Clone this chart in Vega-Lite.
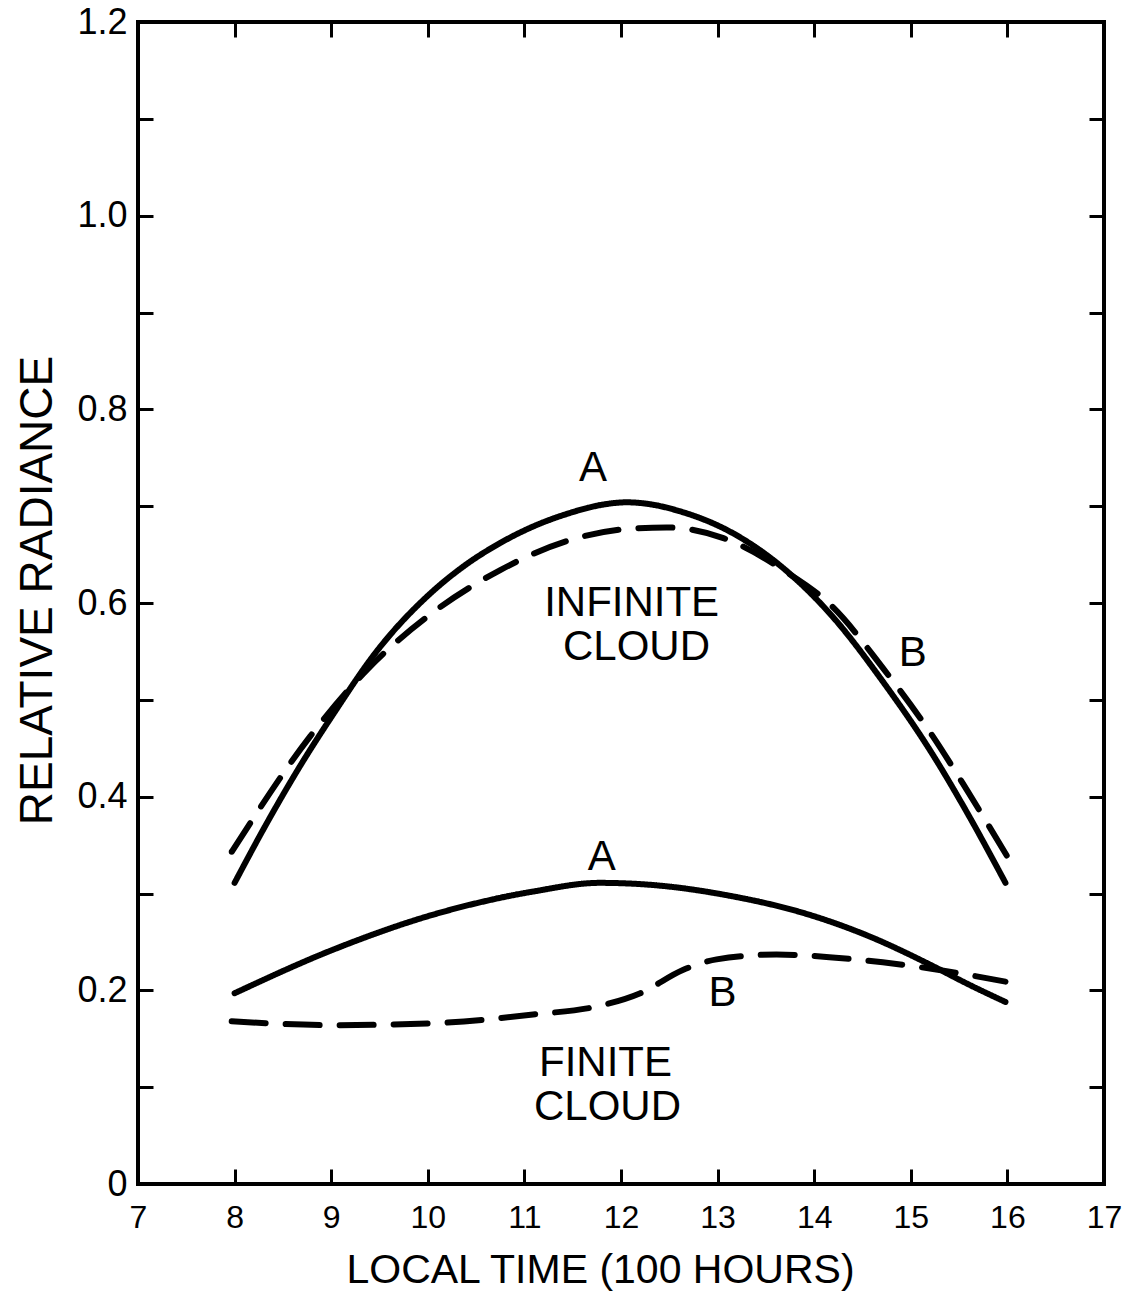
{
  "$schema": "https://vega.github.io/schema/vega-lite/v6.json",
  "width": 966,
  "height": 1162,
  "autosize": {"type": "none"},
  "padding": {"left": 138, "top": 22, "right": 18, "bottom": 108},
  "background": "white",
  "config": {
    "view": {"stroke": "black", "strokeWidth": 4},
    "font": "Liberation Sans",
    "axis": {
      "domain": false,
      "grid": false,
      "tickColor": "black",
      "tickWidth": 3,
      "labelColor": "black",
      "titleColor": "black",
      "titleFontWeight": "normal",
      "labelFont": "Liberation Sans",
      "titleFont": "Liberation Sans"
    }
  },
  "datasets": {
    "curves": [
      {"series": "infinite A", "curve": "A", "time": 8.0, "radiance": 0.311},
      {"series": "infinite A", "curve": "A", "time": 8.33, "radiance": 0.372},
      {"series": "infinite A", "curve": "A", "time": 8.68, "radiance": 0.432},
      {"series": "infinite A", "curve": "A", "time": 9.02, "radiance": 0.485},
      {"series": "infinite A", "curve": "A", "time": 9.47, "radiance": 0.55},
      {"series": "infinite A", "curve": "A", "time": 10.05, "radiance": 0.612},
      {"series": "infinite A", "curve": "A", "time": 10.4, "radiance": 0.640},
      {"series": "infinite A", "curve": "A", "time": 10.75, "radiance": 0.662},
      {"series": "infinite A", "curve": "A", "time": 11.09, "radiance": 0.679},
      {"series": "infinite A", "curve": "A", "time": 11.44, "radiance": 0.692},
      {"series": "infinite A", "curve": "A", "time": 11.78, "radiance": 0.701},
      {"series": "infinite A", "curve": "A", "time": 12.06, "radiance": 0.704},
      {"series": "infinite A", "curve": "A", "time": 12.3, "radiance": 0.702},
      {"series": "infinite A", "curve": "A", "time": 12.6, "radiance": 0.695},
      {"series": "infinite A", "curve": "A", "time": 13.16, "radiance": 0.672},
      {"series": "infinite A", "curve": "A", "time": 13.68, "radiance": 0.636},
      {"series": "infinite A", "curve": "A", "time": 14.19, "radiance": 0.586},
      {"series": "infinite A", "curve": "A", "time": 14.71, "radiance": 0.519},
      {"series": "infinite A", "curve": "A", "time": 15.23, "radiance": 0.443},
      {"series": "infinite A", "curve": "A", "time": 15.58, "radiance": 0.384},
      {"series": "infinite A", "curve": "A", "time": 15.98, "radiance": 0.311},
      {"series": "infinite B", "curve": "B", "time": 7.97, "radiance": 0.343},
      {"series": "infinite B", "curve": "B", "time": 8.78, "radiance": 0.462},
      {"series": "infinite B", "curve": "B", "time": 9.37, "radiance": 0.531},
      {"series": "infinite B", "curve": "B", "time": 10.05, "radiance": 0.59},
      {"series": "infinite B", "curve": "B", "time": 10.75, "radiance": 0.634},
      {"series": "infinite B", "curve": "B", "time": 11.44, "radiance": 0.664},
      {"series": "infinite B", "curve": "B", "time": 12.13, "radiance": 0.677},
      {"series": "infinite B", "curve": "B", "time": 12.47, "radiance": 0.678},
      {"series": "infinite B", "curve": "B", "time": 13.06, "radiance": 0.667},
      {"series": "infinite B", "curve": "B", "time": 13.68, "radiance": 0.634},
      {"series": "infinite B", "curve": "B", "time": 14.19, "radiance": 0.596},
      {"series": "infinite B", "curve": "B", "time": 14.71, "radiance": 0.533},
      {"series": "infinite B", "curve": "B", "time": 15.23, "radiance": 0.462},
      {"series": "infinite B", "curve": "B", "time": 15.58, "radiance": 0.407},
      {"series": "infinite B", "curve": "B", "time": 16.0, "radiance": 0.338},
      {"series": "finite A", "curve": "A", "time": 8.0, "radiance": 0.197},
      {"series": "finite A", "curve": "A", "time": 9.02, "radiance": 0.242},
      {"series": "finite A", "curve": "A", "time": 10.05, "radiance": 0.278},
      {"series": "finite A", "curve": "A", "time": 11.09, "radiance": 0.302},
      {"series": "finite A", "curve": "A", "time": 11.78, "radiance": 0.311},
      {"series": "finite A", "curve": "A", "time": 12.3, "radiance": 0.309},
      {"series": "finite A", "curve": "A", "time": 13.16, "radiance": 0.297},
      {"series": "finite A", "curve": "A", "time": 13.85, "radiance": 0.281},
      {"series": "finite A", "curve": "A", "time": 14.54, "radiance": 0.257},
      {"series": "finite A", "curve": "A", "time": 15.23, "radiance": 0.225},
      {"series": "finite A", "curve": "A", "time": 15.58, "radiance": 0.207},
      {"series": "finite A", "curve": "A", "time": 15.98, "radiance": 0.188},
      {"series": "finite B", "curve": "B", "time": 7.97, "radiance": 0.168},
      {"series": "finite B", "curve": "B", "time": 9.02, "radiance": 0.164},
      {"series": "finite B", "curve": "B", "time": 10.05, "radiance": 0.166},
      {"series": "finite B", "curve": "B", "time": 11.09, "radiance": 0.175},
      {"series": "finite B", "curve": "B", "time": 11.78, "radiance": 0.184},
      {"series": "finite B", "curve": "B", "time": 12.2, "radiance": 0.197},
      {"series": "finite B", "curve": "B", "time": 12.64, "radiance": 0.221},
      {"series": "finite B", "curve": "B", "time": 12.99, "radiance": 0.232},
      {"series": "finite B", "curve": "B", "time": 13.61, "radiance": 0.237},
      {"series": "finite B", "curve": "B", "time": 14.19, "radiance": 0.234},
      {"series": "finite B", "curve": "B", "time": 14.71, "radiance": 0.229},
      {"series": "finite B", "curve": "B", "time": 15.23, "radiance": 0.222},
      {"series": "finite B", "curve": "B", "time": 15.98, "radiance": 0.209}
    ],
    "notes": [
      {"label": "A", "time": 11.71, "radiance": 0.739},
      {"label": "INFINITE", "time": 12.11, "radiance": 0.6},
      {"label": "CLOUD", "time": 12.16, "radiance": 0.555},
      {"label": "B", "time": 15.02, "radiance": 0.548},
      {"label": "A", "time": 11.8, "radiance": 0.338},
      {"label": "B", "time": 13.05, "radiance": 0.197},
      {"label": "FINITE", "time": 11.84, "radiance": 0.125},
      {"label": "CLOUD", "time": 11.86, "radiance": 0.08}
    ]
  },
  "layer": [
    {
      "data": {"name": "curves"},
      "mark": {"type": "line", "interpolate": "monotone", "strokeWidth": 6, "color": "black", "strokeCap": "round"},
      "encoding": {
        "x": {
          "field": "time", "type": "quantitative",
          "scale": {"domain": [7, 17], "nice": false, "zero": false},
          "axis": {
            "orient": "bottom",
            "values": [7, 8, 9, 10, 11, 12, 13, 14, 15, 16, 17],
            "tickSize": -15,
            "labelFontSize": 32,
            "labelBaseline": "middle",
            "labelPadding": 48,
            "labelFlush": false,
            "labelOverlap": false,
            "title": "LOCAL TIME (100 HOURS)",
            "titleFontSize": 41,
            "titleX": 462,
            "titleY": 86,
            "titleBaseline": "middle",
            "titleAnchor": null,
            "titleAlign": "center"
          }
        },
        "y": {
          "field": "radiance", "type": "quantitative",
          "scale": {"domain": [0, 1.2], "nice": false, "zero": false},
          "axis": {
            "orient": "left",
            "values": [0, 0.1, 0.2, 0.3, 0.4, 0.5, 0.6, 0.7, 0.8, 0.9, 1.0, 1.1, 1.2],
            "labelExpr": "datum.value == 0 ? '0' : (round(datum.value * 10) % 2 == 0 ? format(datum.value, '.1f') : '')",
            "tickSize": -15,
            "labelFontSize": 36,
            "labelPadding": 26,
            "labelFlush": false,
            "labelOverlap": false,
            "title": "RELATIVE RADIANCE",
            "titleFontSize": 46,
            "titleAngle": -90,
            "titleX": -101,
            "titleY": 568,
            "titleBaseline": "middle",
            "titleAlign": "center",
            "titleAnchor": null
          }
        },
        "detail": {"field": "series", "type": "nominal"},
        "strokeDash": {
          "field": "curve", "type": "nominal",
          "scale": {"domain": ["A", "B"], "range": [[1, 0], [34, 20]]},
          "legend": null
        }
      }
    },
    {
      "data": {"name": "notes"},
      "mark": {"type": "text", "fontSize": 42, "font": "Liberation Sans", "color": "black", "align": "center", "baseline": "middle"},
      "encoding": {
        "x": {
          "field": "time", "type": "quantitative",
          "scale": {"domain": [7, 17], "nice": false, "zero": false},
          "axis": {
            "orient": "top",
            "values": [8, 9, 10, 11, 12, 13, 14, 15, 16],
            "tickSize": -15,
            "labels": false,
            "title": null
          }
        },
        "y": {
          "field": "radiance", "type": "quantitative",
          "scale": {"domain": [0, 1.2], "nice": false, "zero": false},
          "axis": {
            "orient": "right",
            "values": [0.1, 0.2, 0.3, 0.4, 0.5, 0.6, 0.7, 0.8, 0.9, 1.0, 1.1],
            "tickSize": -15,
            "labels": false,
            "title": null
          }
        },
        "text": {"field": "label", "type": "nominal"}
      }
    }
  ],
  "resolve": {
    "scale": {"x": "shared", "y": "shared"},
    "axis": {"x": "independent", "y": "independent"}
  }
}
